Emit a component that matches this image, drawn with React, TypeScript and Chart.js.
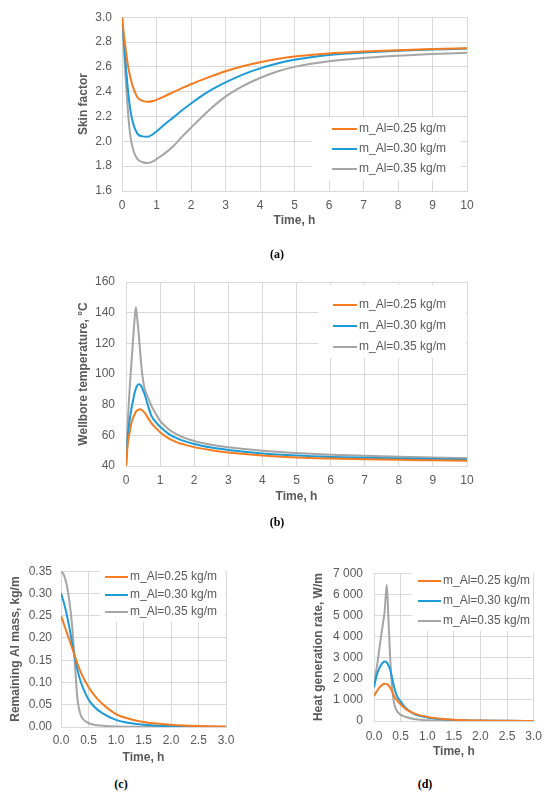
import React, { useEffect, useRef } from 'react';
import { Chart, registerables } from 'chart.js';

Chart.register(...registerables);

const FONT = '"Liberation Sans", Arial, sans-serif';
const TEXT = '#595959';
const GRID = '#D9D9D9';

const seriesLabels = ['m_Al=0.25 kg/m', 'm_Al=0.30 kg/m', 'm_Al=0.35 kg/m'];
const seriesColors = ['#F47B20', '#1C9BD8', '#A5A5A5'];

// (a) Skin factor
const timeA = [0, 0.05, 0.1, 0.15, 0.2, 0.25, 0.3, 0.35, 0.45, 0.6, 0.75, 0.9, 1.0, 1.25, 1.5, 1.75, 2, 2.5, 3, 3.5, 4, 4.5, 5, 6, 7, 8, 9, 10];
const skin025 = [3.0, 2.87, 2.76, 2.65, 2.57, 2.507, 2.455, 2.414, 2.353, 2.326, 2.318, 2.325, 2.334, 2.365, 2.398, 2.43, 2.46, 2.515, 2.565, 2.605, 2.637, 2.663, 2.683, 2.708, 2.723, 2.734, 2.743, 2.75];
const skin030 = [3.0, 2.82, 2.64, 2.48, 2.34, 2.24, 2.17, 2.12, 2.06, 2.04, 2.038, 2.058, 2.08, 2.14, 2.195, 2.252, 2.305, 2.4, 2.475, 2.538, 2.588, 2.627, 2.657, 2.695, 2.715, 2.73, 2.74, 2.747];
const skin035 = [3.0, 2.78, 2.53, 2.33, 2.15, 2.03, 1.96, 1.91, 1.857, 1.832, 1.825, 1.838, 1.857, 1.905, 1.965, 2.04, 2.11, 2.245, 2.36, 2.445, 2.51, 2.562, 2.6, 2.645, 2.672, 2.69, 2.703, 2.713];

// (b) Wellbore temperature
const timeB = [0, 0.05, 0.1, 0.15, 0.2, 0.25, 0.29, 0.33, 0.37, 0.42, 0.46, 0.5, 0.55, 0.65, 0.75, 0.9, 1.0, 1.25, 1.5, 2, 2.5, 3, 4, 5, 6, 7, 8, 9, 10];
const temp025 = [40, 54, 61, 67, 71, 73.5, 75.3, 76.3, 76.9, 77, 76.5, 75.8, 74.6, 71.2, 67.8, 64.3, 62, 58, 55.4, 52.3, 50.3, 48.8, 46.8, 45.6, 44.9, 44.4, 44, 43.7, 43.4];
const temp030 = [40, 58, 68.5, 76, 82, 87.5, 90.5, 92.5, 93.3, 93, 91.5, 89.5, 86.5, 79, 72.5, 68, 65.6, 61, 58, 54.3, 52, 50.5, 48.2, 46.8, 45.9, 45.3, 44.9, 44.5, 44.2];
const temp035 = [40, 67, 88, 104, 120, 135, 143.5, 136, 127, 113, 103, 96, 90, 84.5, 79, 73, 69.5, 64, 60.5, 56.3, 53.8, 52.2, 50, 48.5, 47.4, 46.7, 46.1, 45.6, 45.1];

// (c) Remaining Al mass
const timeC = [0, 0.05, 0.1, 0.15, 0.2, 0.25, 0.3, 0.35, 0.4, 0.5, 0.6, 0.75, 1.0, 1.25, 1.5, 2.0, 2.5, 3.0];
const mass025 = [0.25, 0.232, 0.214, 0.196, 0.178, 0.16, 0.142, 0.126, 0.112, 0.09, 0.072, 0.052, 0.029, 0.018, 0.011, 0.005, 0.002, 0.001];
const mass030 = [0.3, 0.28, 0.255, 0.225, 0.19, 0.158, 0.128, 0.105, 0.088, 0.062, 0.046, 0.031, 0.016, 0.009, 0.005, 0.002, 0.001, 0.0];
const mass035 = [0.35, 0.342, 0.322, 0.285, 0.23, 0.145, 0.062, 0.03, 0.018, 0.009, 0.005, 0.003, 0.001, 0.0005, 0.0, 0.0, 0.0, 0.0];

// (d) Heat generation rate
const timeD = [0, 0.05, 0.1, 0.15, 0.2, 0.24, 0.27, 0.3, 0.33, 0.37, 0.42, 0.5, 0.6, 0.75, 1.0, 1.25, 1.5, 2, 2.5, 3];
const heat025 = [1180, 1400, 1580, 1700, 1760, 1745, 1690, 1590, 1460, 1220, 1010, 790, 560, 360, 195, 110, 65, 25, 10, 4];
const heat030 = [1600, 2150, 2500, 2720, 2818, 2770, 2640, 2470, 2150, 1700, 1250, 930, 600, 340, 170, 90, 50, 18, 6, 2];
const heat035 = [1850, 2500, 3400, 4300, 5200, 6450, 4900, 3200, 1900, 950, 520, 300, 190, 95, 35, 14, 6, 2, 0, 0];

const insideLegend = {
  id: 'insideLegend',
  afterDraw(chart: any, _args: any, opts: any) {
    if (!opts || !opts.rows) return;
    const ctx = chart.ctx;
    const ox = opts.ox, oy = opts.oy;
    ctx.save();
    ctx.fillStyle = '#FFFFFF';
    ctx.fillRect(opts.box[0] - ox, opts.box[1] - oy, opts.box[2] - opts.box[0], opts.box[3] - opts.box[1]);
    chart.data.datasets.forEach((ds: any, i: number) => {
      const y = opts.rows[i] - oy;
      ctx.strokeStyle = ds.borderColor;
      ctx.lineWidth = 2;
      ctx.beginPath();
      ctx.moveTo(opts.lineX[0] - ox, y);
      ctx.lineTo(opts.lineX[1] - ox, y);
      ctx.stroke();
      ctx.fillStyle = TEXT;
      ctx.font = '12px ' + FONT;
      ctx.textBaseline = 'middle';
      ctx.textAlign = 'left';
      ctx.fillText(ds.label, opts.textX - ox, y);
    });
    ctx.restore();
  },
};

type PanelCfg = {
  cx: number; cy: number; cw: number; ch: number;
  pad: { left: number; top: number; right: number; bottom: number };
  yWidth: number; yTickPad: number; xHeight: number; xTickPad: number;
  xMax: number; xStep: number; xFmt: (v: number) => string;
  yMin: number; yMax: number; yStep: number; yFmt: (v: number) => string;
  xTitle: string; yTitle: string;
  time: number[]; series: number[][];
  legend: { box: number[]; rows: number[]; lineX: number[]; textX: number };
};

const thousands = (v: number) => String(Math.round(v)).replace(/\B(?=(\d{3})+(?!\d))/g, ' ');

const panels: PanelCfg[] = [
  {
    cx: 0, cy: 0, cw: 550, ch: 240,
    pad: { left: 76, top: 14, right: 83, bottom: 12 },
    yWidth: 46, yTickPad: 10, xHeight: 37, xTickPad: 7,
    xMax: 10, xStep: 1, xFmt: (v) => String(v),
    yMin: 1.6, yMax: 3.0, yStep: 0.2, yFmt: (v) => v.toFixed(1),
    xTitle: 'Time, h', yTitle: 'Skin factor',
    time: timeA, series: [skin025, skin030, skin035],
    legend: { box: [312, 118, 461, 180], rows: [129, 149, 169], lineX: [332, 357], textX: 359 },
  },
  {
    cx: 0, cy: 260, cw: 550, ch: 250,
    pad: { left: 76, top: 22, right: 83, bottom: 6 },
    yWidth: 50, yTickPad: 11, xHeight: 38, xTickPad: 7,
    xMax: 10, xStep: 1, xFmt: (v) => String(v),
    yMin: 40, yMax: 160, yStep: 20, yFmt: (v) => String(v),
    xTitle: 'Time, h', yTitle: 'Wellbore temperature, °C',
    time: timeB, series: [temp025, temp030, temp035],
    legend: { box: [318, 285, 466, 358], rows: [305, 326, 347], lineX: [333, 357], textX: 359 },
  },
  {
    cx: 0, cy: 555, cw: 275, ch: 215,
    pad: { left: 8, top: 12, right: 49, bottom: 5 },
    yWidth: 53, yTickPad: 9, xHeight: 38, xTickPad: 6,
    xMax: 3, xStep: 0.5, xFmt: (v) => v.toFixed(1),
    yMin: 0, yMax: 0.35, yStep: 0.05, yFmt: (v) => v.toFixed(2),
    xTitle: 'Time, h', yTitle: 'Remaining Al mass, kg/m',
    time: timeC, series: [mass025, mass030, mass035],
    legend: { box: [100, 568, 225, 622], rows: [577, 595, 612], lineX: [105, 128], textX: 130 },
  },
  {
    cx: 275, cy: 555, cw: 275, ch: 215,
    pad: { left: 36, top: 12, right: 16, bottom: 11 },
    yWidth: 63, yTickPad: 11, xHeight: 38, xTickPad: 8,
    xMax: 3, xStep: 0.5, xFmt: (v) => v.toFixed(1),
    yMin: 0, yMax: 7000, yStep: 1000, yFmt: thousands,
    xTitle: 'Time, h', yTitle: 'Heat generation rate, W/m',
    time: timeD, series: [heat025, heat030, heat035],
    legend: { box: [412, 570, 533, 631], rows: [581, 601, 621], lineX: [418, 441], textX: 443 },
  },
];

function Panel({ cfg }: { cfg: PanelCfg }) {
  const ref = useRef<HTMLCanvasElement>(null);
  useEffect(() => {
    const chart = new Chart(ref.current as HTMLCanvasElement, {
      type: 'line',
      data: {
        datasets: cfg.series.map((vals, i) => ({
          label: seriesLabels[i],
          data: cfg.time.map((t, j) => ({ x: t, y: vals[j] })),
          borderColor: seriesColors[i],
          backgroundColor: seriesColors[i],
          borderWidth: 2,
          pointRadius: 0,
          cubicInterpolationMode: 'monotone' as const,
          fill: false,
        })),
      },
      options: {
        animation: false,
        responsive: true,
        maintainAspectRatio: false,
        layout: { padding: cfg.pad },
        plugins: {
          legend: { display: false },
          tooltip: { enabled: false },
          insideLegend: { ...cfg.legend, ox: cfg.cx, oy: cfg.cy },
        } as any,
        scales: {
          x: {
            type: 'linear',
            min: 0,
            max: cfg.xMax,
            afterFit: (s: any) => { s.height = cfg.xHeight; },
            ticks: {
              stepSize: cfg.xStep,
              padding: cfg.xTickPad,
              color: TEXT,
              font: { family: FONT, size: 12 },
              maxRotation: 0,
              callback: (v: any) => cfg.xFmt(Number(v)),
            },
            grid: { color: GRID, lineWidth: 1, drawTicks: false },
            border: { display: true, color: GRID },
            title: {
              display: true,
              text: cfg.xTitle,
              color: TEXT,
              font: { family: FONT, size: 12, weight: 'bold' },
              padding: { top: 0, bottom: 0 },
            },
          },
          y: {
            type: 'linear',
            min: cfg.yMin,
            max: cfg.yMax,
            afterFit: (s: any) => { s.width = cfg.yWidth; },
            ticks: {
              stepSize: cfg.yStep,
              padding: cfg.yTickPad,
              color: TEXT,
              font: { family: FONT, size: 12 },
              callback: (v: any) => cfg.yFmt(Number(v)),
            },
            grid: { color: GRID, lineWidth: 1, drawTicks: false },
            border: { display: true, color: GRID },
            title: {
              display: true,
              text: cfg.yTitle,
              color: TEXT,
              font: { family: FONT, size: 12, weight: 'bold' },
              padding: { top: 0, bottom: 0 },
            },
          },
        },
      },
      plugins: [insideLegend],
    } as any);
    return () => chart.destroy();
  }, []);
  return (
    <div style={{ position: 'absolute', left: cfg.cx, top: cfg.cy, width: cfg.cw, height: cfg.ch }}>
      <canvas ref={ref} style={{ display: 'block' }} />
    </div>
  );
}

const captions = [
  { text: '(a)', x: 277, y: 254 },
  { text: '(b)', x: 277, y: 522 },
  { text: '(c)', x: 121, y: 784 },
  { text: '(d)', x: 425, y: 784 },
];

export default function App() {
  return (
    <div style={{ position: 'absolute', left: 0, top: 0, width: 550, height: 799, background: '#FFFFFF', overflow: 'hidden' }}>
      {panels.map((p, i) => <Panel key={i} cfg={p} />)}
      {captions.map((c) => (
        <div
          key={c.text}
          style={{
            position: 'absolute',
            left: c.x,
            top: c.y,
            transform: 'translate(-50%, -50%)',
            fontFamily: '"Liberation Serif", "DejaVu Serif", serif',
            fontWeight: 'bold',
            fontSize: 12,
            color: '#000000',
            lineHeight: 1,
            whiteSpace: 'nowrap',
          }}
        >
          {c.text}
        </div>
      ))}
    </div>
  );
}
